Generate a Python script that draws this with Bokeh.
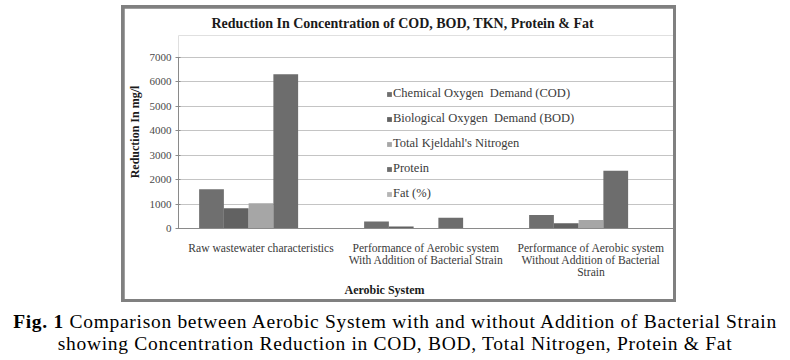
from bokeh.plotting import figure
from bokeh.layouts import column
from bokeh.models import (FactorRange, Range1d, Legend, LegendItem, FixedTicker,
                          ColumnDataSource, Title, Div)
from bokeh.transform import dodge
from bokeh.embed import file_html
from bokeh.resources import INLINE

# ---------------- data ----------------
categories = [
    "Raw wastewater characteristics",
    "Performance of Aerobic system\nWith Addition of Bacterial Strain",
    "Performance of Aerobic system\nWithout Addition of Bacterial\nStrain",
]
series_names = [
    "Chemical Oxygen  Demand (COD)",
    "Biological Oxygen  Demand (BOD)",
    "Total Kjeldahl's Nitrogen",
    "Protein",
    "Fat (%)",
]
cod = [1610, 285, 555]
bod = [826, 80, 215]
tkn = [1030, 20, 350]
protein = [6315, 435, 2360]
fat = [6, 2, 3]
y_ticks = [0, 1000, 2000, 3000, 4000, 5000, 6000, 7000]
y_max = 7000

colors = ["#6f6f6f", "#626262", "#a6a6a6", "#6d6d6d", "#b5b5b5"]
offsets = [-0.3, -0.15, 0.0, 0.15, 0.3]

src = ColumnDataSource(dict(cat=categories, cod=cod, bod=bod, tkn=tkn,
                            protein=protein, fat=fat))
cols = ["cod", "bod", "tkn", "protein", "fat"]

SERIF = "Liberation Serif"

# plot frame spans 194 px; the 0..7000 part of it spans 172 px
FRAME_H, AXIS_H = 194, 172
p = figure(width=549, height=291,
           x_range=FactorRange(*categories, range_padding=0),
           y_range=Range1d(0, y_max * FRAME_H / AXIS_H),
           output_backend="svg", toolbar_location=None,
           min_border_left=51, min_border_right=0, min_border_top=26,
           min_border_bottom=71)
p.margin = (3, 3, 3, 3)
p.outline_line_color = None
p.background_fill_color = "white"
p.border_fill_color = "white"

p.title.text = "Reduction In Concentration of COD, BOD, TKN, Protein & Fat"
p.title.align = "left"
p.title.offset = 33
p.title.text_font = SERIF
p.title.text_font_style = "bold"
p.title.text_font_size = "14px"
p.title.text_color = "#1a1a1a"
p.title.standoff = 10

renderers = []
for c, col, off in zip(cols, colors, offsets):
    r = p.vbar(x=dodge("cat", off, range=p.x_range), top=c, width=0.15,
               source=src, fill_color=col, line_color=None)
    renderers.append(r)

# axes
p.xgrid.grid_line_color = None
p.ygrid.grid_line_color = "#c4c4c4"
p.ygrid.grid_line_width = 1
p.yaxis.ticker = FixedTicker(ticks=y_ticks)
p.yaxis.bounds = (0, y_max)
p.yaxis.axis_line_color = "#8a8a8a"
p.yaxis.major_tick_line_color = "#8a8a8a"
p.yaxis.major_tick_in = 2
p.yaxis.major_tick_out = 3
p.yaxis.minor_tick_line_color = None
p.yaxis.major_label_text_font = SERIF
p.yaxis.major_label_text_font_size = "11px"
p.yaxis.major_label_text_color = "#4a4a4a"
p.yaxis.major_label_standoff = 4
p.yaxis.axis_label = "Reduction In mg/l"
p.yaxis.axis_label_text_font = SERIF
p.yaxis.axis_label_text_font_style = "bold"
p.yaxis.axis_label_text_font_size = "12px"
p.yaxis.axis_label_text_color = "#1a1a1a"
p.yaxis.axis_label_standoff = 5

p.xaxis.axis_line_color = "#8a8a8a"
p.xaxis.major_tick_line_color = None
p.xaxis.minor_tick_line_color = None
p.xaxis.major_label_text_font = SERIF
p.xaxis.major_label_text_font_size = "11.6px"
p.xaxis.major_label_text_color = "#3a3a3a"
p.xaxis.major_label_standoff = 7
p.xaxis.major_label_text_line_height = 0.95
p.xaxis.axis_label_standoff = 0

xt = Title(text="Aerobic System", align="left", offset=166, vertical_align="top",
           text_font=SERIF, text_font_style="bold", text_font_size="12px",
           text_color="#1a1a1a", standoff=0)
p.add_layout(xt, "below")

# legend
items = [LegendItem(label=n, renderers=[r]) for n, r in zip(series_names, renderers)]
leg = Legend(items=items, location=(208, 27), orientation="vertical",
             glyph_width=6, glyph_height=6, label_height=14, spacing=10,
             padding=0, margin=0, label_standoff=1,
             label_text_font=SERIF, label_text_font_size="12.5px",
             label_text_color="#3a3a3a",
             background_fill_alpha=0, border_line_color=None)
p.add_layout(leg)

# grey box behind the figure forms the chart's outer border
box = column(p, width=555, height=297, margin=(5, 0, 0, 121),
             styles={"background-color": "#808080"})

caption = Div(
    text="<b>Fig. 1</b> Comparison between Aerobic System with and without Addition of "
         "Bacterial Strain<br>showing Concentration Reduction in COD, BOD, Total Nitrogen, "
         "Protein &amp; Fat",
    width=790, height=46, margin=(9, 0, 0, 0),
    styles={"text-align": "center", "font-family": SERIF, "font-size": "19.5px",
            "letter-spacing": "0.7px", "line-height": "22px", "color": "black",
            "white-space": "nowrap"})

layout = column(box, caption)
open("out.html", "w").write(file_html(layout, INLINE))
